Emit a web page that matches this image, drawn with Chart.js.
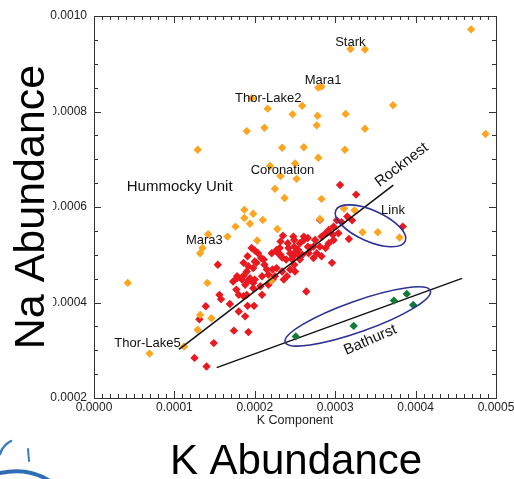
<!DOCTYPE html>
<html>
<head>
<meta charset="utf-8">
<script src="https://cdn.jsdelivr.net/npm/chart.js@4/dist/chart.umd.min.js"></script>
<style>
  html, body { margin: 0; padding: 0; background: #fff; }
  #wrap { position: relative; width: 514px; height: 479px; }
</style>
</head>
<body>
<div id="wrap"><canvas id="c" width="514" height="479"></canvas></div>
<script>
// ---------------- DATA ----------------
// Hummocky Unit (orange)
const hummockyK = [4.69e-4,3.19e-4,3.37e-4,2.79e-4,2.83e-4,1.96e-4,2.16e-4,2.59e-4,2.47e-4,2.78e-4,3.13e-4,3.72e-4,2.12e-4,1.90e-4,2.77e-4,3.37e-4,4.87e-4,1.29e-4,2.34e-4,2.61e-4,3.12e-4,2.79e-4,2.19e-4,2.50e-4,2.32e-4,2.52e-4,2.25e-4,2.37e-4,2.83e-4,3.11e-4,3.24e-4,2.81e-4,3.34e-4,3.53e-4,3.80e-4,1.87e-4,1.98e-4,1.87e-4,1.94e-4,2.10e-4,1.76e-4,1.66e-4,1.42e-4,2.28e-4,2.03e-4,1.35e-4,1.32e-4,0.42e-4,1.41e-4,1.32e-4,1.46e-4,1.29e-4,1.12e-4,0.69e-4,2.20e-4];
const hummockyNa = [9.72e-4,9.31e-4,9.30e-4,8.50e-4,8.52e-4,8.28e-4,8.06e-4,8.12e-4,7.94e-4,7.91e-4,7.95e-4,8.13e-4,7.66e-4,7.59e-4,7.71e-4,7.64e-4,7.53e-4,7.20e-4,7.24e-4,7.25e-4,7.20e-4,7.03e-4,6.86e-4,6.91e-4,6.65e-4,6.59e-4,6.38e-4,6.19e-4,6.17e-4,5.97e-4,5.93e-4,5.75e-4,5.47e-4,5.47e-4,5.36e-4,5.94e-4,5.86e-4,5.77e-4,5.65e-4,5.73e-4,5.59e-4,5.38e-4,5.43e-4,5.54e-4,5.30e-4,5.14e-4,5.03e-4,4.41e-4,4.41e-4,3.74e-4,3.67e-4,3.43e-4,3.08e-4,2.93e-4,4.46e-4];

// Rocknest (red)
const rocknestK = [3.06e-4,3.26e-4,3.84e-4,3.17e-4,2.96e-4,2.64e-4,1.54e-4,1.39e-4,1.31e-4,1.25e-4,1.40e-4,1.49e-4,1.74e-4,1.92e-4,1.56e-4,1.58e-4,1.69e-4,1.80e-4,1.88e-4,1.99e-4,1.91e-4,2.09e-4,1.77e-4,1.80e-4,1.86e-4,1.90e-4,1.78e-4,1.84e-4,1.92e-4,1.98e-4,1.73e-4,1.78e-4,1.86e-4,1.94e-4,2.00e-4,1.88e-4,1.98e-4,2.07e-4,2.09e-4,1.86e-4,1.90e-4,1.98e-4,1.92e-4,2.02e-4,2.11e-4,1.91e-4,1.96e-4,2.00e-4,2.04e-4,2.00e-4,2.08e-4,2.12e-4,2.15e-4,2.22e-4,2.17e-4,2.25e-4,2.34e-4,2.27e-4,2.34e-4,2.39e-4,2.31e-4,2.35e-4,2.29e-4,2.40e-4,2.44e-4,2.49e-4,2.50e-4,2.36e-4,2.22e-4,2.17e-4,2.48e-4,2.49e-4,2.54e-4,2.56e-4,2.61e-4,2.66e-4,2.69e-4,2.73e-4,2.75e-4,2.81e-4,2.83e-4,2.88e-4,2.83e-4,2.73e-4,2.88e-4,2.59e-4,2.48e-4,2.44e-4,2.92e-4,2.98e-4,3.02e-4,3.08e-4,3.15e-4,2.97e-4,2.81e-4,3.21e-4,2.56e-4,2.67e-4,2.77e-4,2.92e-4,2.98e-4,3.04e-4,2.32e-4,2.41e-4,2.49e-4,2.61e-4,2.66e-4,2.49e-4,2.42e-4,2.27e-4,2.21e-4,2.32e-4,2.46e-4,2.54e-4];
const rocknestNa = [6.46e-4,6.26e-4,5.59e-4,5.33e-4,4.83e-4,4.23e-4,4.79e-4,3.92e-4,3.65e-4,2.84e-4,2.66e-4,3.15e-4,3.41e-4,3.38e-4,4.16e-4,4.07e-4,3.97e-4,3.81e-4,3.71e-4,3.93e-4,3.93e-4,4.16e-4,4.27e-4,4.16e-4,4.13e-4,4.16e-4,4.55e-4,4.48e-4,4.46e-4,4.41e-4,4.44e-4,4.51e-4,4.56e-4,4.51e-4,4.48e-4,4.37e-4,4.30e-4,4.34e-4,4.55e-4,4.83e-4,4.65e-4,4.72e-4,4.76e-4,4.83e-4,4.90e-4,4.97e-4,5.14e-4,5.09e-4,5.03e-4,4.86e-4,4.93e-4,4.79e-4,4.69e-4,4.69e-4,4.58e-4,4.55e-4,4.65e-4,4.72e-4,4.94e-4,4.90e-4,5.14e-4,5.40e-4,5.03e-4,4.55e-4,4.69e-4,4.79e-4,4.65e-4,4.48e-4,4.48e-4,4.37e-4,5.38e-4,5.17e-4,5.10e-4,5.24e-4,5.31e-4,5.35e-4,5.14e-4,5.17e-4,5.31e-4,5.17e-4,5.38e-4,5.45e-4,4.97e-4,4.93e-4,5.14e-4,5.00e-4,4.97e-4,5.03e-4,5.52e-4,5.59e-4,5.72e-4,5.68e-4,5.80e-4,5.42e-4,5.73e-4,5.72e-4,4.90e-4,5.03e-4,5.03e-4,5.24e-4,5.31e-4,5.45e-4,5.28e-4,5.24e-4,5.31e-4,5.38e-4,5.17e-4,5.03e-4,5.14e-4,5.10e-4,5.03e-4,5.00e-4,4.91e-4,5.00e-4];

// Bathurst (green)
const bathurstK  = [2.51e-4,3.23e-4,3.73e-4,3.89e-4,3.97e-4];
const bathurstNa = [3.29e-4,3.51e-4,4.04e-4,4.18e-4,3.95e-4];

// Trend lines (end points)
const rocknestLineK  = [1.057e-4, 3.723e-4];
const rocknestLineNa = [3.02e-4, 6.46e-4];
const bathurstLineK  = [1.526e-4, 4.577e-4];
const bathurstLineNa = [2.636e-4, 4.506e-4];

// Axis ranges / ticks
const xMin = 0, xMax = 0.0005, xStep = 0.0001, xMinorStep = 0.00001;
const yMin = 0.0002, yMax = 0.0010, yStep = 0.0002, yMinorStep = 0.00005;

// Point labels
const labelNames = ["Stark","Mara1","Thor-Lake2","Coronation","Hummocky Unit","Mara3","Thor-Lake5","Link"];
const labelK     = [3.00e-4, 2.62e-4, 1.754e-4, 1.949e-4, 0.407e-4, 1.144e-4, 0.252e-4, 3.57e-4];
const labelNa    = [9.44e-4, 8.645e-4, 8.268e-4, 6.769e-4, 6.425e-4, 5.309e-4, 3.146e-4, 5.923e-4];

// ---------------- helpers ----------------
const zip = (xs, ys) => xs.map((v, i) => ({x: v, y: ys[i]}));
const FONT = "'Liberation Sans', Arial, Helvetica, sans-serif";

const decor = {
  id: 'decor',
  afterDatasetsDraw(chart) {
    const {ctx, scales: {x, y}} = chart;
    ctx.save();
    ctx.strokeStyle = '#2e3192';
    ctx.lineWidth = 1.6;
    const ellipses = [
      {k: 3.439e-4, na: 5.606e-4, rx: 38, ry: 15.5, rot: 24},
      {k: 3.281e-4, na: 3.707e-4, rx: 77, ry: 15.5, rot: -19.5}
    ];
    ellipses.forEach(e => {
      ctx.beginPath();
      ctx.ellipse(x.getPixelForValue(e.k), y.getPixelForValue(e.na), e.rx, e.ry, e.rot * Math.PI / 180, 0, Math.PI * 2);
      ctx.stroke();
    });
    ctx.restore();
  },
  afterDraw(chart) {
    const {ctx, chartArea: a, scales: {x, y}} = chart;
    ctx.save();
    // frame
    ctx.strokeStyle = '#333';
    ctx.lineWidth = 1;
    ctx.strokeRect(Math.round(a.left) + 0.5, Math.round(a.top) + 0.5, Math.round(a.right - a.left), Math.round(a.bottom - a.top));
    // inward ticks, all four sides
    ctx.beginPath();
    for (let i = 0; i <= Math.round((xMax - xMin) / xMinorStep); i++) {
      const v = xMin + i * xMinorStep;
      const px = Math.round(x.getPixelForValue(v)) + 0.5;
      const len = (i % Math.round(xStep / xMinorStep) === 0) ? 7 : 4;
      ctx.moveTo(px, a.bottom); ctx.lineTo(px, a.bottom - len);
      ctx.moveTo(px, a.top); ctx.lineTo(px, a.top + len);
    }
    for (let i = 0; i <= Math.round((yMax - yMin) / yMinorStep); i++) {
      const v = yMin + i * yMinorStep;
      const py = Math.round(y.getPixelForValue(v)) + 0.5;
      const len = (i % Math.round(yStep / yMinorStep) === 0) ? 7 : 4;
      ctx.moveTo(a.left, py); ctx.lineTo(a.left + len, py);
      ctx.moveTo(a.right, py); ctx.lineTo(a.right - len, py);
    }
    ctx.stroke();

    // point labels
    ctx.fillStyle = '#111';
    ctx.textBaseline = 'middle';
    ctx.textAlign = 'left';
    labelNames.forEach((t, i) => {
      ctx.font = (t === 'Hummocky Unit' ? '15px ' : '13px ') + FONT;
      ctx.fillText(t, x.getPixelForValue(labelK[i]), y.getPixelForValue(labelNa[i]));
    });
    // rotated labels
    const rot = [
      {t: 'Rocknest', k: 3.827e-4, na: 6.88e-4, ang: -37.5},
      {t: 'Bathurst', k: 3.437e-4, na: 3.215e-4, ang: -23.4}
    ];
    ctx.textAlign = 'center';
    ctx.font = '15px ' + FONT;
    rot.forEach(r => {
      ctx.save();
      ctx.translate(x.getPixelForValue(r.k), y.getPixelForValue(r.na));
      ctx.rotate(r.ang * Math.PI / 180);
      ctx.fillText(r.t, 0, 0);
      ctx.restore();
    });

    // big titles
    ctx.fillStyle = '#fff';
    ctx.fillRect(0, 30, 53, 355);
    ctx.fillStyle = '#000';
    ctx.font = '43px ' + FONT;
    ctx.textBaseline = 'alphabetic';
    ctx.save();
    ctx.translate(44, 207);
    ctx.rotate(-Math.PI / 2);
    ctx.textAlign = 'center';
    ctx.fillText('Na Abundance', 0, 0);
    ctx.restore();
    ctx.textAlign = 'center';
    ctx.font = '42px ' + FONT;
    ctx.fillText('K Abundance', 296, 474);

    // logo fragment bottom-left
    ctx.strokeStyle = '#3b7cc4';
    ctx.lineCap = 'round';
    ctx.lineWidth = 2.5;
    ctx.beginPath(); ctx.moveTo(0, 454); ctx.quadraticCurveTo(3, 445, 11, 441); ctx.stroke();
    ctx.lineWidth = 2;
    ctx.beginPath(); ctx.moveTo(28, 449); ctx.lineTo(29, 461); ctx.stroke();
    ctx.strokeStyle = '#2f6db5';
    ctx.lineWidth = 4;
    ctx.beginPath(); ctx.moveTo(0, 473); ctx.quadraticCurveTo(28, 467, 50, 481); ctx.stroke();
    ctx.restore();
  }
};

const pt = (color) => ({
  pointStyle: 'rectRot', pointRadius: 4.2, pointBorderWidth: 0,
  backgroundColor: color, borderColor: color, showLine: false
});

new Chart(document.getElementById('c'), {
  type: 'scatter',
  data: {
    datasets: [
      Object.assign({label: 'Bathurst', data: zip(bathurstK, bathurstNa)}, pt('#137a3a')),
      {label: 'Rocknest trend', data: zip(rocknestLineK, rocknestLineNa), showLine: true, borderColor: '#111', borderWidth: 1.5, pointRadius: 0, fill: false},
      {label: 'Bathurst trend', data: zip(bathurstLineK, bathurstLineNa), showLine: true, borderColor: '#111', borderWidth: 1.5, pointRadius: 0, fill: false},
      Object.assign({label: 'Hummocky Unit', data: zip(hummockyK, hummockyNa)}, pt('#fba520')),
      Object.assign({label: 'Rocknest', data: zip(rocknestK, rocknestNa)}, pt('#e8191f'))
    ]
  },
  options: {
    responsive: false,
    animation: false,
    events: [],
    layout: {padding: {left: 0, top: 16, right: 18, bottom: 0}},
    plugins: {legend: {display: false}, tooltip: {enabled: false}},
    scales: {
      x: {
        type: 'linear', min: xMin, max: xMax, bounds: 'ticks',
        grid: {display: false, drawTicks: false}, border: {display: false},
        ticks: {stepSize: xStep, padding: 2, color: '#222', font: {family: FONT, size: 12},
                maxRotation: 0, autoSkip: false, callback: v => Number(v).toFixed(4)},
        title: {display: true, text: 'K Component', color: '#222', font: {family: FONT, size: 12.5},
                padding: {top: 0, bottom: 51}},
        afterFit(s) { s.height = 81; s.paddingLeft = 0; s.paddingRight = 0; }
      },
      y: {
        type: 'linear', min: yMin, max: yMax, bounds: 'ticks',
        grid: {display: false, drawTicks: false}, border: {display: false},
        ticks: {stepSize: yStep, padding: 7, color: '#222', font: {family: FONT, size: 12},
                autoSkip: false, callback: v => Number(v).toFixed(4)},
        afterFit(s) { s.width = 94; s.paddingTop = 0; s.paddingBottom = 0; }
      }
    }
  },
  plugins: [decor]
});
</script>
</body>
</html>
